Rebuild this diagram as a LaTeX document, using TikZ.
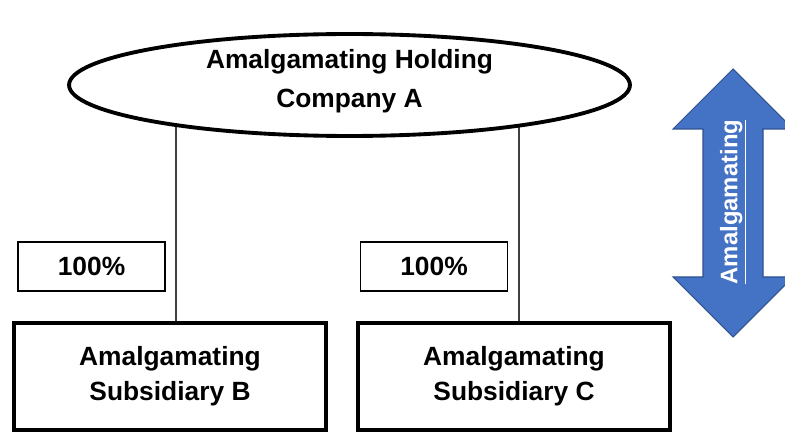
\documentclass[tikz,border=0pt]{standalone}
\usepackage{fontspec}
\setmainfont{Liberation Sans}
\usepackage{tikz}
\usetikzlibrary{shapes.geometric}
\definecolor{arrowblue}{HTML}{4472C4}
\definecolor{arrowedge}{HTML}{2F528F}
\tikzset{
  holdshape/.style = {draw, ellipse, line width=2.2pt, fill=white, minimum width=11.22cm, minimum height=2.04cm, inner sep=0pt},
  subbox/.style    = {draw, line width=2.2pt, minimum width=6.24cm, minimum height=2.14cm, align=center, font=\fontsize{15}{20}\selectfont\bfseries},
  pctbox/.style    = {draw, line width=1.1pt, minimum width=2.94cm, minimum height=0.98cm, font=\fontsize{15}{18}\selectfont\bfseries},
  lbl/.style       = {align=center, inner sep=0pt, font=\fontsize{15}{22.5}\selectfont\bfseries},
  arrowtext/.style = {text=white, inner sep=0pt, font=\fontsize{13.6}{16}\selectfont\bfseries},
  link/.style      = {draw=black!75, line width=0.6pt},
  bigarrow/.style  = {fill=arrowblue, draw=arrowedge, line width=0.6pt}
}

\begin{document}
\begin{tikzpicture}[x=0.02cm, y=-0.02cm]

    \useasboundingbox (0,0) rectangle (785,432);

    % --- Subsidiaries -------------------------------------------------------
    \node[subbox] (subB) at (170, 376.5) {Amalgamating\\Subsidiary B};
    \node[subbox] (subC) at (514, 376.5) {Amalgamating\\Subsidiary C};

    % --- Shareholding labels ------------------------------------------------
    \node[pctbox] (pctB) at (91.5, 266.5) {100\%};
    \node[pctbox] (pctC) at (434, 266.5) {100\%};

    % --- Links (the ellipse is drawn over their upper ends) -----------------
    \coordinate (tapB) at (176, 100);
    \coordinate (tapC) at (519, 100);
    \draw[link] (tapB) -- (tapB |- subB.north);
    \draw[link] (tapC) -- (tapC |- subC.north);

    % --- Holding company ----------------------------------------------------
    \node[holdshape] (holding) at (349.5, 85) {};
    \node[lbl] (holdtxt) at (349.5, 81) {Amalgamating Holding\\Company A};

    % --- Double arrow -------------------------------------------------------
    \draw[bigarrow] (733,69) -- (793,129) -- (763,129) -- (763,277) -- (793,277)
      -- (733,337) -- (673,277) -- (703,277) -- (703,129) -- (673,129) -- cycle;
    \node[arrowtext, rotate=90] (amal) at (733, 202) {\underline{Amalgamating}};

\end{tikzpicture}
\end{document}
